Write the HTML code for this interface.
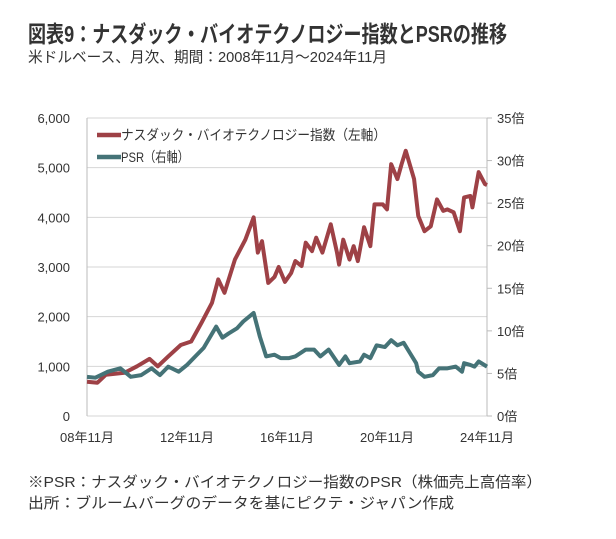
<!DOCTYPE html>
<html><head><meta charset="utf-8">
<style>
html,body{margin:0;padding:0;background:#fff;}
svg{display:block;font-family:"Liberation Sans","Noto Sans CJK JP",sans-serif;}
</style></head>
<body>
<svg id="chart" width="616" height="539" viewBox="0 0 616 539">
<text x="28" y="42" font-size="23" font-weight="bold" fill="#333" textLength="479" lengthAdjust="spacingAndGlyphs">図表9：ナスダック・バイオテクノロジー指数とPSRの推移</text>
<text x="28" y="62" font-size="15" fill="#333" textLength="359" lengthAdjust="spacingAndGlyphs">米ドルベース、月次、期間：2008年11月～2024年11月</text>
<g id="grid"></g>
<g id="axes"></g>
<g id="series"></g>
<g>
  <g>
    <line x1="97" y1="135" x2="121" y2="135" stroke="#9e4146" stroke-width="4.5"/>
    <text x="121" y="140" font-size="14" fill="#333" textLength="265" lengthAdjust="spacingAndGlyphs">ナスダック・バイオテクノロジー指数（左軸）</text>
  </g>
  <g>
    <line x1="97" y1="157" x2="121" y2="157" stroke="#457377" stroke-width="4.5"/>
    <text x="121" y="162" font-size="14" fill="#333" textLength="68" lengthAdjust="spacingAndGlyphs">PSR（右軸）</text>
  </g>
</g>
<text x="28" y="487" font-size="15" fill="#333" textLength="514" lengthAdjust="spacingAndGlyphs">※PSR：ナスダック・バイオテクノロジー指数のPSR（株価売上高倍率）</text>
<text x="28" y="508" font-size="15" fill="#333" textLength="426" lengthAdjust="spacingAndGlyphs">出所：ブルームバーグのデータを基にピクテ・ジャパン作成</text>
</svg>
<script>
const indexMonths=[0,5,9,18,24,30,34,39,45,50,55,60,63,66,71,76,80,82,84,87,90,92,95,98,100,103,105,108,110,113,117,120,121,123,126,128,130,133,136,138,142,144,146,149,151,153,157,159,162,165,168,171,173,176,179,181,184,185,188,191,192];
const indexValues=[690,670,830,870,1000,1150,1000,1200,1430,1500,1880,2280,2750,2480,3150,3550,4000,3290,3520,2680,2800,3000,2700,2880,3120,3020,3490,3320,3590,3290,3860,3290,3050,3550,3150,3420,3120,3800,3420,4260,4260,4160,5070,4770,5070,5340,4770,4030,3720,3820,4360,4130,4160,4100,3720,4400,4430,4200,4910,4670,4650];
const psrMonths=[0,4,10,16,21,26,31,35,39,44,48,52,56,62,65,68,72,75,80,83,86,90,93,97,100,105,109,112,116,121,124,126,131,133,136,139,143,146,149,152,155,158,159,162,166,169,173,177,180,181,184,186,188,192];
const psrValues=[4.6,4.5,5.2,5.6,4.6,4.8,5.6,4.8,5.8,5.2,6.0,7.0,8.0,10.5,9.2,9.7,10.3,11.1,12.1,9.3,7.0,7.2,6.8,6.8,7.0,7.8,7.8,7.0,7.8,6.0,7.0,6.2,6.4,7.2,6.8,8.3,8.1,8.9,8.3,8.6,7.4,6.2,5.2,4.6,4.8,5.6,5.6,5.8,5.2,6.2,6.0,5.8,6.4,5.8];
const leftTicks=[0,1000,2000,3000,4000,5000,6000];
const leftTickLabels=["0","1,000","2,000","3,000","4,000","5,000","6,000"];
const rightTicks=[0,5,10,15,20,25,30,35];
const rightTickLabels=["0倍","5倍","10倍","15倍","20倍","25倍","30倍","35倍"];
const xTicks=[0,48,96,144,192];
const xTickLabels=["08年11月","12年11月","16年11月","20年11月","24年11月"];

const NS="http://www.w3.org/2000/svg";
const X0=87,X1=487,Y0=416,Y1=118,NM=192;
const xs=m=>X0+(X1-X0)*m/NM;
const yl=v=>Y0-(Y0-Y1)*v/6000;
const yr=v=>Y0-(Y0-Y1)*v/35;
function mk(tag,attrs,parent){const e=document.createElementNS(NS,tag);for(const k in attrs)e.setAttribute(k,attrs[k]);parent.appendChild(e);return e;}
const grid=document.getElementById('grid'),axes=document.getElementById('axes'),series=document.getElementById('series');
leftTicks.forEach((t,i)=>{
  const g=mk('line',{x1:X0,x2:X1,y1:yl(t),y2:yl(t),stroke:'#d6d6d6','stroke-width':1},grid);
  
  
  const tx=mk('text',{x:70,y:yl(t)+5,'font-size':13,'text-anchor':'end',fill:'#333'},axes);
  tx.textContent=leftTickLabels[i];
  
  
});
rightTicks.forEach((t,i)=>{
  const tk=mk('line',{x1:X1,x2:X1+5,y1:yr(t),y2:yr(t),stroke:'#bbb'},axes);
  
  
  const tx=mk('text',{x:497,y:yr(t)+5,'font-size':13,fill:'#333'},axes);
  tx.textContent=rightTickLabels[i];
  
  
});
xTicks.forEach((t,i)=>{
  const tx=mk('text',{x:xs(t),y:442,'font-size':13,'text-anchor':'middle',fill:'#333'},axes);
  tx.textContent=xTickLabels[i];
  
  
});
const la=mk('line',{x1:X0,x2:X0,y1:Y1,y2:Y0,stroke:'#bbb'},axes);


const ra=mk('line',{x1:X1,x2:X1,y1:Y1,y2:Y0,stroke:'#bbb'},axes);


const pi=mk('polyline',{points:indexMonths.map((m,i)=>xs(m)+','+yl(indexValues[i])).join(' '),fill:'none',stroke:'#9e4146','stroke-width':4,'stroke-linejoin':'round'},series);


const pp=mk('polyline',{points:psrMonths.map((m,i)=>xs(m)+','+yr(psrValues[i])).join(' '),fill:'none',stroke:'#457377','stroke-width':4,'stroke-linejoin':'round'},series);


</script>
</body></html>
